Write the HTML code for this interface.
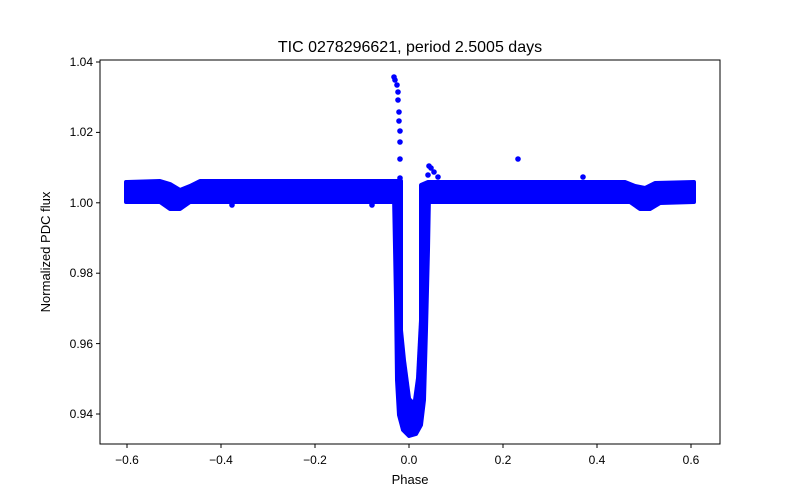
<!DOCTYPE html>
<html><head><style>body{margin:0;background:#fff}svg{display:block}</style></head><body>
<svg width="800" height="500" xmlns="http://www.w3.org/2000/svg" font-family="Liberation Sans, DejaVu Sans, sans-serif">
<rect width="800" height="500" fill="#fff"/>
<g fill="#0000ff" stroke="#0000ff" stroke-linejoin="round" stroke-width="4">
<path d="M126,182 L160,181 L170,184 L180,190 L190,186 L200,181 L396,181 L401,181 L401,202 L190,202 L180,209 L170,209 L160,202 L126,202 Z"/>
<path d="M421,185 L428,182 L625,182 L635,186 L645,188 L655,183 L694,182 L694,202 L660,203 L650,209 L640,209 L630,202 L421,202 Z"/>
<path d="M394,195 L396,300 L397,380 L399,415 L403,430 L409,436 L416,434 L421,425 L424,400 L426,330 L428,250 L429,195 Z"/>
</g>
<path d="M403,190 L403,330 L406,360 L411,398 L413,400 L416,378 L419,320 L419,190 Z" fill="#fff"/>
<g fill="#0000ff">
<circle cx="394" cy="77" r="2.8"/><circle cx="395" cy="80" r="2.8"/><circle cx="397" cy="85" r="2.8"/><circle cx="398" cy="92" r="2.8"/><circle cx="398" cy="100" r="2.8"/><circle cx="399" cy="112" r="2.8"/><circle cx="399" cy="121" r="2.8"/><circle cx="400" cy="131" r="2.8"/><circle cx="400" cy="142" r="2.8"/><circle cx="400" cy="159" r="2.8"/><circle cx="400" cy="178" r="2.8"/>
<circle cx="429" cy="166" r="2.8"/><circle cx="431" cy="168" r="2.8"/><circle cx="434" cy="172" r="2.8"/><circle cx="438" cy="177" r="2.8"/><circle cx="428" cy="175" r="2.8"/>
<circle cx="518" cy="159" r="2.8"/><circle cx="583" cy="177" r="2.8"/><circle cx="232" cy="205" r="2.8"/><circle cx="372" cy="205" r="2.8"/>
</g>
<rect x="100" y="60" width="620" height="384" fill="none" stroke="#000" stroke-width="1"/>
<g stroke="#000" stroke-width="1">
<line x1="127" y1="444" x2="127" y2="448"/><line x1="221" y1="444" x2="221" y2="448"/><line x1="315" y1="444" x2="315" y2="448"/><line x1="409" y1="444" x2="409" y2="448"/><line x1="503" y1="444" x2="503" y2="448"/><line x1="597" y1="444" x2="597" y2="448"/><line x1="691" y1="444" x2="691" y2="448"/>
<line x1="96" y1="414" x2="100" y2="414"/><line x1="96" y1="343.6" x2="100" y2="343.6"/><line x1="96" y1="273.2" x2="100" y2="273.2"/><line x1="96" y1="202.8" x2="100" y2="202.8"/><line x1="96" y1="132.4" x2="100" y2="132.4"/><line x1="96" y1="62" x2="100" y2="62"/>
</g>
<g font-size="12" fill="#000" text-anchor="middle">
<text x="127" y="464">−0.6</text><text x="221" y="464">−0.4</text><text x="315" y="464">−0.2</text><text x="409" y="464">0.0</text><text x="503" y="464">0.2</text><text x="597" y="464">0.4</text><text x="691" y="464">0.6</text>
</g>
<g font-size="12" fill="#000" text-anchor="end">
<text x="93" y="418">0.94</text><text x="93" y="348">0.96</text><text x="93" y="277">0.98</text><text x="93" y="207">1.00</text><text x="93" y="136">1.02</text><text x="93" y="66">1.04</text>
</g>
<text x="410" y="484" font-size="13" text-anchor="middle">Phase</text>
<text transform="translate(50,252) rotate(-90)" font-size="13" text-anchor="middle">Normalized PDC flux</text>
<text x="410" y="52" font-size="16" text-anchor="middle">TIC 0278296621, period 2.5005 days</text>
</svg>
</body></html>
